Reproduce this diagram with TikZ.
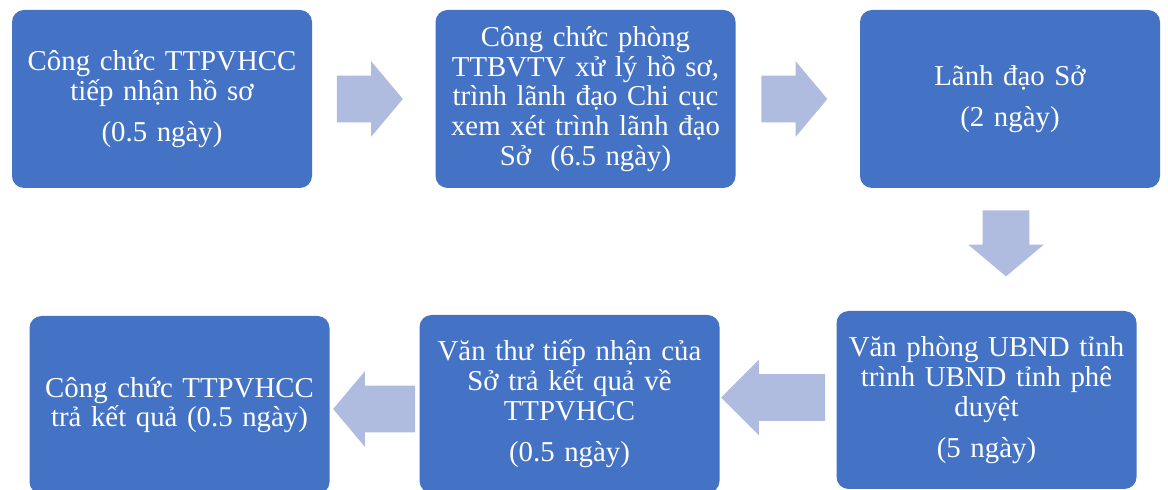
\documentclass[tikz,border=0pt]{standalone}
\usepackage{fontspec}
\setmainfont{Liberation Serif}
\usepackage{tikz}
\usetikzlibrary{calc}
\usetikzlibrary{shapes,arrows,positioning}
\definecolor{boxblue}{HTML}{4472C4}
\definecolor{arrowblue}{HTML}{B0BCDF}
\tikzstyle{process} = [rectangle, rounded corners=0.3cm, fill=boxblue, text=white, text width=7.1cm, align=center, minimum width=7.5cm, minimum height=4.45cm, inner sep=0pt, font=\fontsize{20.5pt}{21.2pt}\selectfont]
\tikzstyle{blockarrow} = [single arrow, fill=arrowblue, inner sep=0.575cm, single arrow head extend=0.3625cm, single arrow tip angle=100, minimum height=1.6cm, anchor=tip]

\begin{document}
\begin{tikzpicture}[node distance=10.6cm]
    \useasboundingbox (0,0) rectangle (29.2,-12.25);

    \node(receive)[process] at (4.05,-2.475){Công chức TTPVHCC\\tiếp nhận hồ sơ\\[8pt](0.5 ngày)};
    \node(handle)[process, right of=receive, xshift=-0.0125cm]{Công chức phòng\\TTBVTV xử lý hồ sơ,\\trình lãnh đạo Chi cục\\xem xét trình lãnh đạo\\Sở\ \ (6.5 ngày)};
    \node(director)[process, right of=handle, xshift=0.0125cm]{Lãnh đạo Sở\\[8pt](2 ngày)};

    \node(province)[process, below of=director, xshift=-0.5875cm, yshift=3.075cm]{Văn phòng UBND tỉnh\\trình UBND tỉnh phê\\duyệt\\[8pt](5 ngày)};
    \node(clerk)[process, left of=province, xshift=0.175cm, yshift=-0.1cm]{Văn thư tiếp nhận của\\Sở trả kết quả về\\TTPVHCC\\[8pt](0.5 ngày)};
    \node(returnres)[process, left of=clerk, xshift=0.85cm, yshift=-0.025cm]{Công chức TTPVHCC\\trả kết quả (0.5 ngày)};

    % block arrows, placed by their tips
    \node(arrow1)[blockarrow] at ($(handle.west)+(-0.8,0)$){};
    \node(arrow2)[blockarrow] at ($(director.west)+(-0.8,0)$){};
    \node(arrow3)[blockarrow, shape border rotate=270, minimum height=1.575cm] at ($(province.north)+(0.4875,0.85)$){};
    \node(arrow4)[blockarrow, shape border rotate=180, minimum height=2.6cm, single arrow tip angle=90] at ($(clerk.east)+(0.025,0.1625)$){};
    \node(arrow5)[blockarrow, shape border rotate=180, minimum height=2.05cm] at ($(returnres.east)+(0.075,-0.1)$){};

\end{tikzpicture}
\end{document}
